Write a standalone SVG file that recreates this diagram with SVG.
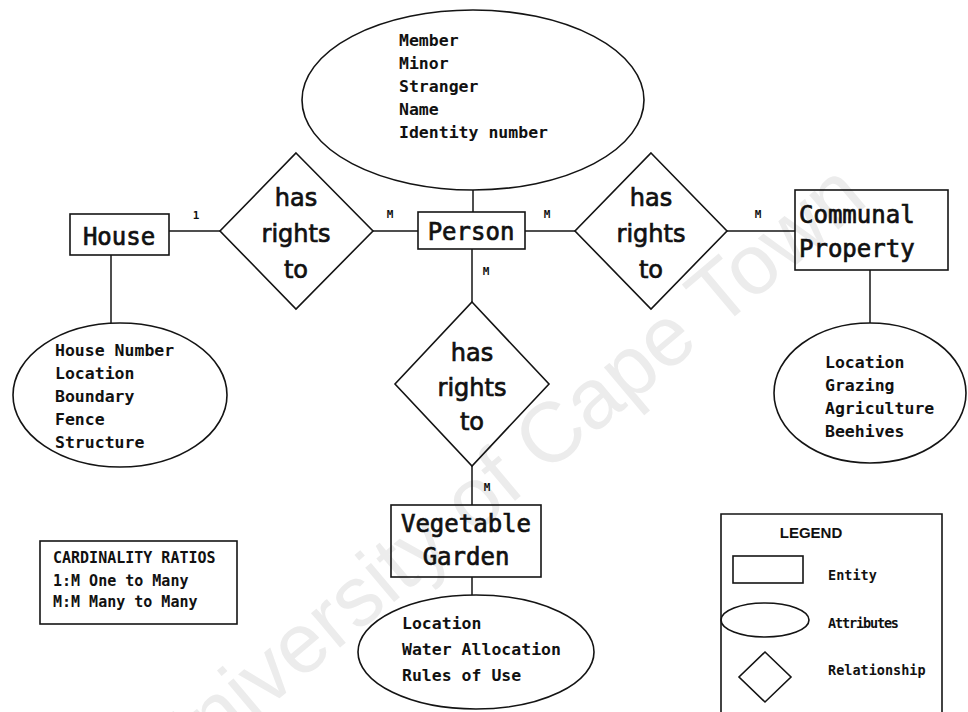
<svg xmlns="http://www.w3.org/2000/svg" width="968" height="712" viewBox="0 0 968 712">
  <style>
    .shape { fill: none; stroke: #141414; stroke-width: 1.6; }
    .link { fill: none; stroke: #141414; stroke-width: 1.5; }
    .ent { font-family: "DejaVu Sans Mono", monospace; font-size: 24px; fill: #111; stroke: #111; stroke-width: 0.7; }
    .rel { font-family: "DejaVu Sans", sans-serif; font-size: 24px; fill: #111; stroke: #111; stroke-width: 0.7; text-anchor: middle; }
    .attr { font-family: "DejaVu Sans Mono", monospace; font-weight: bold; font-size: 16.5px; fill: #111; }
    .card { font-family: "DejaVu Sans Mono", monospace; font-weight: bold; font-size: 11px; fill: #111; }
    .note { font-family: "DejaVu Sans Mono", monospace; font-weight: bold; font-size: 15px; fill: #111; }
    .leg { font-family: "DejaVu Sans Mono", monospace; font-weight: bold; font-size: 13.5px; fill: #111; }
    .wm { font-family: "Liberation Sans", Arial, sans-serif; font-size: 85px; fill: #ececec; }
  </style>

  <rect width="968" height="712" fill="#ffffff"/>

  <!-- background watermark -->
  <text class="wm" x="169" y="791" transform="rotate(-40 169 791)">University of Cape Town</text>

  <!-- connectors -->
  <g id="connectors">
    <line class="link" x1="473" y1="190" x2="473" y2="212"/>
    <line class="link" x1="169" y1="231" x2="220" y2="231"/>
    <line class="link" x1="373" y1="231" x2="418" y2="231"/>
    <line class="link" x1="525" y1="231" x2="575" y2="231"/>
    <line class="link" x1="727" y1="231" x2="795" y2="231"/>
    <line class="link" x1="111" y1="255" x2="111" y2="323"/>
    <line class="link" x1="870" y1="270" x2="870" y2="323"/>
    <line class="link" x1="472" y1="249" x2="472" y2="302"/>
    <line class="link" x1="472" y1="466" x2="472" y2="505"/>
    <line class="link" x1="472" y1="577" x2="472" y2="595"/>
    <text class="card" x="196" y="219" text-anchor="middle" font-size="14">1</text>
    <text class="card" x="390" y="218" text-anchor="middle">M</text>
    <text class="card" x="547" y="218" text-anchor="middle">M</text>
    <text class="card" x="758" y="218" text-anchor="middle">M</text>
    <text class="card" x="486" y="275" text-anchor="middle">M</text>
    <text class="card" x="487" y="491" text-anchor="middle">M</text>
  </g>

  <!-- person attributes -->
  <g id="person-attributes">
    <ellipse class="shape" cx="473" cy="100" rx="171" ry="90"/>
    <text class="attr" x="399" y="46">Member</text>
    <text class="attr" x="399" y="69">Minor</text>
    <text class="attr" x="399" y="92">Stranger</text>
    <text class="attr" x="399" y="115">Name</text>
    <text class="attr" x="399" y="138">Identity number</text>
  </g>

  <g id="house">
    <rect class="shape" x="70" y="214" width="99" height="41"/>
    <text class="ent" x="119" y="245" text-anchor="middle">House</text>
  </g>

  <g id="house-attributes">
    <ellipse class="shape" cx="120" cy="395" rx="107" ry="72"/>
    <text class="attr" x="55" y="356">House Number</text>
    <text class="attr" x="55" y="379">Location</text>
    <text class="attr" x="55" y="402">Boundary</text>
    <text class="attr" x="55" y="425">Fence</text>
    <text class="attr" x="55" y="448">Structure</text>
  </g>

  <g id="rel-house">
    <polygon class="shape" points="296,153 373,231 296,309 220,231"/>
    <text class="rel" x="296" y="206">has</text>
    <text class="rel" x="296" y="242">rights</text>
    <text class="rel" x="296" y="278">to</text>
  </g>

  <g id="person">
    <rect class="shape" x="418" y="212" width="107" height="37"/>
    <text class="ent" x="471" y="240" text-anchor="middle">Person</text>
  </g>

  <g id="rel-communal">
    <polygon class="shape" points="651,153 727,231 651,309 575,231"/>
    <text class="rel" x="651" y="206">has</text>
    <text class="rel" x="651" y="242">rights</text>
    <text class="rel" x="651" y="278">to</text>
  </g>

  <g id="communal-property">
    <rect class="shape" x="795" y="190" width="153" height="80"/>
    <text class="ent" x="799" y="223">Communal</text>
    <text class="ent" x="799" y="257">Property</text>
  </g>

  <g id="communal-attributes">
    <ellipse class="shape" cx="870" cy="393" rx="96" ry="70"/>
    <text class="attr" x="825" y="368">Location</text>
    <text class="attr" x="825" y="391">Grazing</text>
    <text class="attr" x="825" y="414">Agriculture</text>
    <text class="attr" x="825" y="437">Beehives</text>
  </g>

  <g id="rel-garden">
    <polygon class="shape" points="472,302 549,384 472,466 395,384"/>
    <text class="rel" x="472" y="361">has</text>
    <text class="rel" x="472" y="396">rights</text>
    <text class="rel" x="472" y="430">to</text>
  </g>

  <g id="vegetable-garden">
    <rect class="shape" x="391" y="505" width="150" height="72"/>
    <text class="ent" x="466" y="532" text-anchor="middle">Vegetable</text>
    <text class="ent" x="466" y="565" text-anchor="middle">Garden</text>
  </g>

  <g id="garden-attributes">
    <ellipse class="shape" cx="476" cy="652" rx="118" ry="57"/>
    <text class="attr" x="402" y="629">Location</text>
    <text class="attr" x="402" y="655">Water Allocation</text>
    <text class="attr" x="402" y="681">Rules of Use</text>
  </g>

  <g id="cardinality-ratios">
    <rect class="shape" x="40" y="541" width="197" height="83"/>
    <text class="note" x="53" y="563">CARDINALITY RATIOS</text>
    <text class="note" x="53" y="586">1:M One to Many</text>
    <text class="note" x="53" y="607">M:M Many to Many</text>
  </g>

  <g id="legend">
    <polyline class="shape" points="721,716 721,514 942,514 942,716"/>
    <text x="811" y="538" text-anchor="middle" font-family="Liberation Sans, Arial, sans-serif" font-weight="bold" font-size="15" fill="#111">LEGEND</text>
    <rect class="shape" x="733" y="556" width="70" height="27"/>
    <text class="leg" x="828" y="580">Entity</text>
    <ellipse class="shape" cx="765" cy="620" rx="44" ry="17"/>
    <text class="leg" x="828" y="628" textLength="71">Attributes</text>
    <polygon class="shape" points="765,652 791,677 765,702 739,677"/>
    <text class="leg" x="828" y="675">Relationship</text>
  </g>
</svg>
